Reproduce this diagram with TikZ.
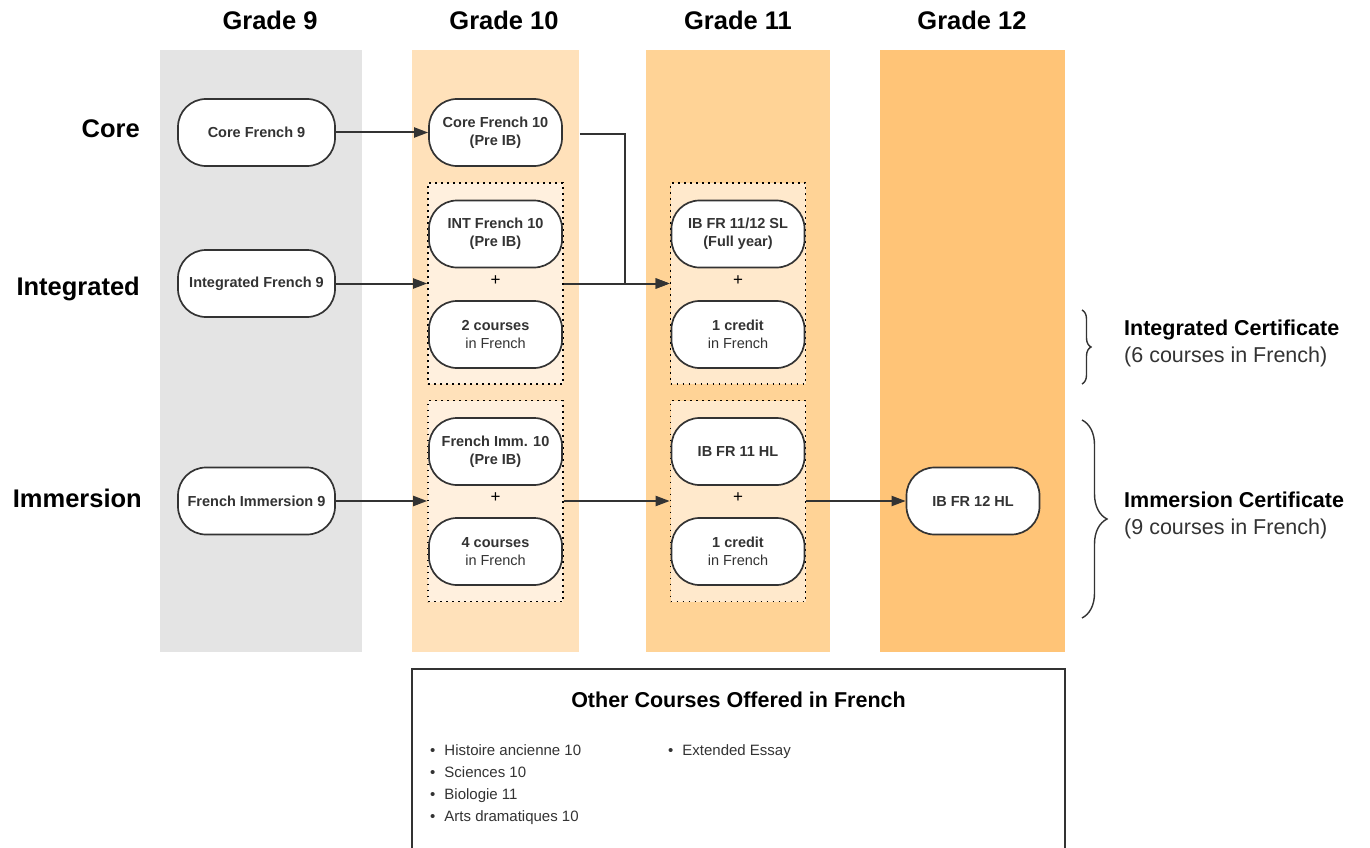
\documentclass[tikz,border=0pt]{standalone}
\usepackage{fontspec}
\setmainfont{Liberation Sans}
\usetikzlibrary{arrows.meta,decorations.pathreplacing,calc}
\definecolor{gnine}{HTML}{E4E4E4}
\definecolor{gten}{HTML}{FFE1BA}
\definecolor{geleven}{HTML}{FFD396}
\definecolor{gtwelve}{HTML}{FFC477}
\definecolor{inten}{HTML}{FFF0DE}
\definecolor{inelev}{HTML}{FFE9CC}
\definecolor{ink}{HTML}{333333}
\begin{document}
\begin{tikzpicture}[x=1pt,y=-1pt,
  course/.style={draw=ink, line width=1.7pt, fill=white, rounded corners=28pt,
    minimum height=67pt, minimum width=133pt, inner sep=0pt, align=center,
    font=\fontsize{14.5}{18}\selectfont\bfseries, text=ink},
  wide/.style={minimum width=157pt},
  grp/.style={draw=black, line width=1.6pt, dash pattern=on 1.6pt off 4.4pt,
    minimum width=135pt, minimum height=201pt, inner sep=0pt},
  conn/.style={draw=ink, line width=2pt, -{Triangle[length=14pt,width=10pt]}},
  hdr/.style={font=\fontsize{25.5}{30}\selectfont\bfseries, text=black},
  rowlab/.style={font=\fontsize{25.5}{30}\selectfont\bfseries, text=black, anchor=east, inner sep=0pt},
  plus/.style={font=\fontsize{17}{20}\selectfont, text=black, inner sep=0pt},
  cert/.style={font=\fontsize{21.5}{27}\selectfont, text=ink, anchor=west, align=left, inner sep=0pt},
  brc/.style={draw=ink, line width=1.4pt, decorate},
  item/.style={font=\fontsize{15}{18}\selectfont, text=ink, anchor=base west, inner sep=0pt},
]
\useasboundingbox (0,0) rectangle (1370,848);
\fill[white] (0,0) rectangle (1370,848);

% grade columns
\fill[gnine] (160,50) rectangle (362,652);
\fill[gten] (412,50) rectangle (579,652);
\fill[geleven] (646,50) rectangle (830,652);
\fill[gtwelve] (880,50) rectangle (1065,652);

% headers
\node[hdr] (h9) at (270,20) {Grade 9};
\node[hdr] (h10) at (504,20) {Grade 10};
\node[hdr] (h11) at (738,20) {Grade 11};
\node[hdr] (h12) at (972,20) {Grade 12};

% row labels
\node[rowlab] (rcore) at (140,129) {Core};
\node[rowlab] (rint) at (140,289) {Integrated};
\node[rowlab] (rimm) at (142,498) {Immersion};

% dotted groups
\node[grp, fill=inten] (g10i) at (495.5,283.5) {};
\node[grp, fill=inten] (g10m) at (495.5,501) {};
\node[grp, fill=inelev] (g11i) at (738,283.5) {};
\node[grp, fill=inelev] (g11m) at (738,501) {};

% grade 9
\node[course, wide] (c9) at (256.5,132.5) {Core French 9};
\node[course, wide] (i9) at (256.5,283.5) {Integrated French 9};
\node[course, wide] (m9) at (256.5,501) {French Immersion 9};

% grade 10
\node[course] (c10) at (495.5,132.5) {Core French 10\\(Pre IB)};
\node[course] (i10) at (495.5,234) {INT French 10\\(Pre IB)};
\node[plus] (p10i) at (495.5,281) {+};
\node[course] (i10b) at (495.5,334.5) {2 courses\\\mdseries in French};
\node[course] (m10) at (495.5,451.5) {French Imm. 10\\(Pre IB)};
\node[plus] (p10m) at (495.5,498) {+};
\node[course] (m10b) at (495.5,551.5) {4 courses\\\mdseries in French};

% grade 11
\node[course] (i11) at (738,234) {IB FR 11/12 SL\\(Full year)};
\node[plus] (p11i) at (738,281) {+};
\node[course] (i11b) at (738,334.5) {1 credit\\\mdseries in French};
\node[course] (m11) at (738,451.5) {IB FR 11 HL};
\node[plus] (p11m) at (738,498) {+};
\node[course] (m11b) at (738,551.5) {1 credit\\\mdseries in French};

% grade 12
\node[course] (m12) at (973,501) {IB FR 12 HL};

% connectors
\draw[conn] (c9.east) -- (c10.west);
\draw[conn] (i9.east) -- (g10i.west);
\draw[conn] (m9.east) -- (g10m.west);
\draw[conn] ([xshift=17pt,yshift=-1.5pt]c10.east) -- ++(45,0) |- (g11i.west);
\draw[conn] (g10i.east) -- (g11i.west);
\draw[conn] (g10m.east) -- (g11m.west);
\draw[conn] (g11m.east) -- (m12.west);

% braces
\coordinate (bi1) at (1082,310);
\coordinate (bi2) at (1082,384);
\coordinate (bm1) at (1082,420);
\coordinate (bm2) at (1082,618);
\draw[brc, decoration={brace, amplitude=9pt}] (bi1) -- (bi2);
\draw[brc, decoration={brace, amplitude=25pt}] (bm1) -- (bm2);
\node[cert] (ci) at (1124,343.5) {\textbf{\color{black}Integrated Certificate}\\(6 courses in French)};
\node[cert] (cm) at (1124,515.5) {\textbf{\color{black}Immersion Certificate}\\(9 courses in French)};

% other courses box
\draw[ink, line width=1.6pt] (412,860) -- (412,669) -- (1065,669) -- (1065,860);
\node[font=\fontsize{21.5}{26}\selectfont\bfseries, text=black] (otitle) at (738.5,700) {Other Courses Offered in French};
\node[item] (o1) at (430,755.5) {•\hspace{9pt}Histoire ancienne 10};
\node[item] (o2) at (430,777.5) {•\hspace{9pt}Sciences 10};
\node[item] (o3) at (430,799.5) {•\hspace{9pt}Biologie 11};
\node[item] (o4) at (430,821.5) {•\hspace{9pt}Arts dramatiques 10};
\node[item] (o5) at (668,755.5) {•\hspace{9pt}Extended Essay};
\end{tikzpicture}
\end{document}
